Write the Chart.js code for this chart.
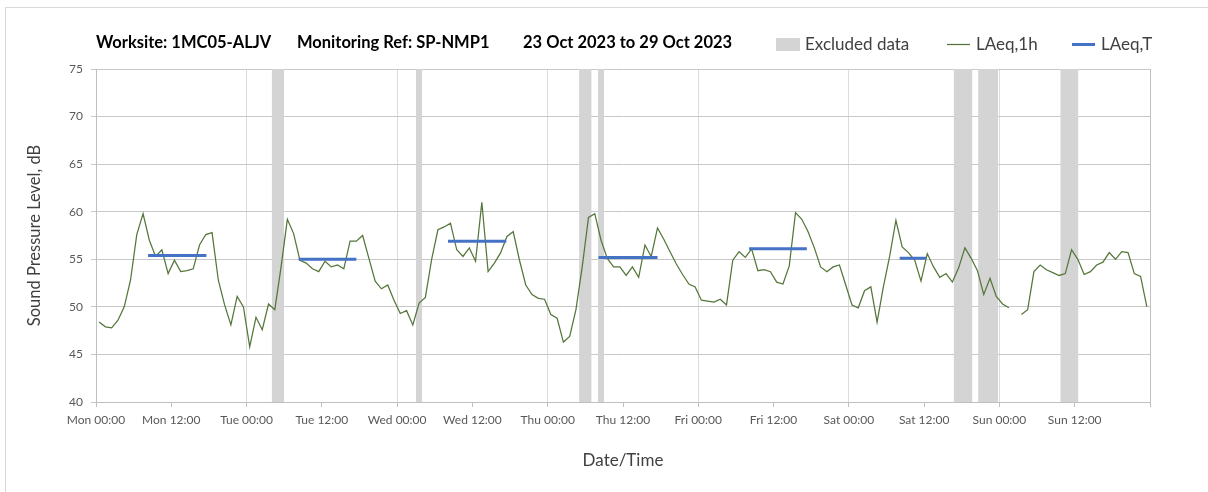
<!DOCTYPE html>
<html>
<head>
<meta charset="utf-8">
<script src="https://cdn.jsdelivr.net/npm/chart.js@4.4.0/dist/chart.umd.min.js"></script>
<style>
  html, body { margin: 0; padding: 0; background: #fff; overflow: hidden; }
  #moldura { position: absolute; left: 5px; top: 7px; width: 1300px; height: 600px; border: 1px solid #d9d9d9; }
  #grafico { position: absolute; left: 0; top: 0; }
</style>
</head>
<body>
<div id="moldura"></div>
<canvas id="grafico" width="1208" height="492"></canvas>
<script>
// dados (hora 0 = Mon 00:00)
const dias = ['Mon', 'Tue', 'Wed', 'Thu', 'Fri', 'Sat', 'Sun'];
const titulo = ['Worksite: 1MC05-ALJV', 'Monitoring Ref: SP-NMP1', '23 Oct 2023 to 29 Oct 2023'];
const yMin = 40, yMax = 75, yPasso = 5;

// LAeq,1h - um valor por hora (null = sem dado)
const laeq1h = [
  48.4, 47.9, 47.8, 48.6, 50.0, 52.8, 57.6, 59.8, 57.0, 55.3, 56.0, 53.5, 54.9, 53.7, 53.8, 54.0, 56.5, 57.6, 57.8, 52.8, 50.2, 48.1, 51.1, 50.0,
  45.8, 48.9, 47.6, 50.3, 49.7, 54.2, 59.2, 57.7, 54.9, 54.6, 54.0, 53.7, 54.8, 54.2, 54.4, 54.0, 56.9, 56.9, 57.5, 55.1, 52.7, 51.9, 52.3, 50.7,
  49.3, 49.6, 48.1, 50.4, 51.0, 55.0, 58.1, 58.4, 58.8, 56.0, 55.3, 56.2, 54.8, 61.0, 53.7, 54.6, 55.7, 57.4, 57.9, 54.9, 52.3, 51.3, 50.9, 50.8,
  49.2, 48.8, 46.3, 46.9, 49.7, 54.2, 59.4, 59.8, 57.0, 55.1, 54.2, 54.2, 53.3, 54.2, 53.1, 56.5, 55.3, 58.3, 57.1, 55.8, 54.5, 53.4, 52.4, 52.1,
  50.7, 50.6, 50.5, 50.8, 50.2, 54.9, 55.8, 55.2, 56.1, 53.8, 53.9, 53.7, 52.6, 52.4, 54.3, 59.9, 59.2, 57.9, 56.2, 54.2, 53.7, 54.2, 54.4, 52.3,
  50.2, 49.9, 51.7, 52.1, 48.4, 52.1, 55.3, 59.1, 56.3, 55.7, 54.9, 52.7, 55.6, 54.2, 53.1, 53.5, 52.6, 54.1, 56.2, 55.1, 53.8, 51.3, 53.0, 51.1,
  50.3, 49.9, null, 49.2, 49.7, 53.7, 54.4, 53.9, 53.6, 53.3, 53.5, 56.0, 55.0, 53.4, 53.7, 54.4, 54.7, 55.7, 55.0, 55.8, 55.7, 53.5, 53.2, 50.0
];

// LAeq,T - periodos (horas) e nivel
const laeqTInicio = [8.3, 32.3, 56.1, 80.1, 104.1, 128.1];
const laeqTFim = [17.6, 41.5, 65.4, 89.5, 113.3, 132.3];
const laeqTValor = [55.4, 55.0, 56.9, 55.2, 56.1, 55.1];

// periodos de dados excluidos (horas)
const exclInicio = [28, 51, 77, 80, 136.7, 140.6, 153.7];
const exclFim = [30, 52, 79, 81, 139.7, 143.8, 156.6];

const corVerde = '#54763a';
const corAzul = '#4472c4';
const corCinza = '#d4d4d4';

// monta os datasets
let pontos1h = laeq1h.map((v, i) => ({ x: i + 0.5, y: v }));

let pontosT = [];
for (let i = 0; i < laeqTValor.length; i++) {
  pontosT.push({ x: laeqTInicio[i], y: laeqTValor[i] });
  pontosT.push({ x: laeqTFim[i], y: laeqTValor[i] });
  pontosT.push({ x: laeqTFim[i], y: null }); // quebra a linha
}

let datasets = [];
for (let i = 0; i < exclInicio.length; i++) {
  datasets.push({
    label: 'Excluded data',
    data: [{ x: exclInicio[i], y: yMax }, { x: exclFim[i], y: yMax }],
    fill: 'start',
    backgroundColor: corCinza,
    borderWidth: 0,
    pointRadius: 0,
    order: 3
  });
}
datasets.push({
  label: 'LAeq,1h',
  data: pontos1h,
  borderColor: corVerde,
  borderWidth: 1.25,
  pointRadius: 0,
  tension: 0,
  fill: false,
  order: 2
});
datasets.push({
  label: 'LAeq,T',
  data: pontosT,
  borderColor: corAzul,
  borderWidth: 3,
  pointRadius: 0,
  fill: false,
  order: 1
});

// titulo + legenda na mesma linha (desenhados a mao)
const cabecalho = {
  id: 'cabecalho',
  afterDraw(chart) {
    const ctx = chart.ctx;
    ctx.save();
    ctx.textBaseline = 'alphabetic';
    ctx.fillStyle = '#000';
    ctx.font = 'bold 16.5px Lato';
    const xs = [96, 297, 523];
    titulo.forEach((t, i) => ctx.fillText(t, xs[i], 48));

    ctx.font = '17px Lato';
    // Excluded data
    ctx.fillStyle = corCinza;
    ctx.fillRect(776, 38, 24, 13);
    ctx.fillStyle = '#404040';
    ctx.fillText('Excluded data', 805, 50);
    // LAeq,1h
    ctx.strokeStyle = corVerde;
    ctx.lineWidth = 1.25;
    ctx.beginPath(); ctx.moveTo(947, 44.5); ctx.lineTo(970, 44.5); ctx.stroke();
    ctx.fillText('LAeq,1h', 976, 50);
    // LAeq,T
    ctx.strokeStyle = corAzul;
    ctx.lineWidth = 3;
    ctx.beginPath(); ctx.moveTo(1072, 44.5); ctx.lineTo(1095, 44.5); ctx.stroke();
    ctx.fillText('LAeq,T', 1101, 50);
    ctx.restore();
  }
};

Chart.defaults.font.family = 'Lato';

new Chart(document.getElementById('grafico'), {
  type: 'line',
  data: { datasets: datasets },
  plugins: [cabecalho],
  options: {
    responsive: false,
    animation: false,
    devicePixelRatio: 1,
    layout: { padding: { left: 10, right: 58, top: 69, bottom: 10 } },
    plugins: {
      legend: { display: false },
      tooltip: { enabled: false }
    },
    scales: {
      x: {
        type: 'linear',
        min: 0,
        max: 168,
        ticks: {
          stepSize: 12,
          autoSkip: false,
          maxRotation: 0,
          color: '#595959',
          font: { size: 12 },
          padding: 6,
          callback: function (v) {
            if (v >= 168) return '';
            return dias[Math.floor(v / 24)] + ' ' + (v % 24 === 0 ? '00:00' : '12:00');
          }
        },
        grid: {
          color: function (c) {
            if (!c.tick) return 'rgba(0,0,0,0)';
            if (c.tick.value === 168) return '#bfbfbf';
            return c.tick.value % 24 === 0 ? '#dcdcdc' : 'rgba(0,0,0,0)';
          },
          tickColor: '#bfbfbf',
          tickLength: 5
        },
        border: { color: '#bfbfbf' },
        title: { display: true, text: 'Date/Time', color: '#404040', font: { size: 17 }, padding: { top: 0, bottom: 11 } },
        afterFit: function (s) { s.height = 80; }
      },
      y: {
        min: yMin,
        max: yMax,
        ticks: { stepSize: yPasso, color: '#595959', font: { size: 12 }, padding: 8 },
        grid: { color: '#c8c8c8', tickColor: '#c8c8c8', tickLength: 5 },
        border: { color: '#bfbfbf' },
        title: { display: true, text: 'Sound Pressure Level, dB', color: '#404040', font: { size: 16.5 }, padding: { top: 15, bottom: 0 } },
        afterFit: function (s) { s.width = 86; }
      }
    }
  }
});
</script>
</body>
</html>
